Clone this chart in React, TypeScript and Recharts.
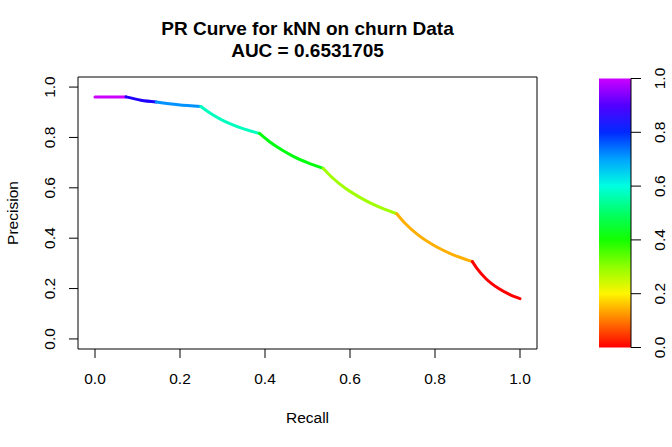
import React from 'react';
import { LineChart, Line, XAxis, YAxis, ReferenceArea, BarChart, Bar } from 'recharts';

// ---- data ----
const titleLines = ['PR Curve for kNN on churn Data', 'AUC = 0.6531705'];
const xLabel = 'Recall';
const yLabel = 'Precision';
const axisTicks = [0, 0.2, 0.4, 0.6, 0.8, 1.0];
const colorbarTicks = [0, 0.2, 0.4, 0.6, 0.8, 1.0];

// each segment of the curve (recall / precision), one colour per threshold
const segmentRecall: number[][] = [
  [0, 0.073],
  [0.073, 0.108, 0.144],
  [0.144, 0.196, 0.249],
  [0.249, 0.262, 0.277, 0.296, 0.316, 0.35, 0.387],
  [0.387, 0.41, 0.44, 0.47, 0.5, 0.537],
  [0.537, 0.56, 0.59, 0.62, 0.66, 0.71],
  [0.71, 0.73, 0.76, 0.8, 0.84, 0.888],
  [0.888, 0.9, 0.92, 0.95, 0.975, 1.0],
];
const segmentPrecision: number[][] = [
  [0.961, 0.961],
  [0.961, 0.948, 0.941],
  [0.941, 0.93, 0.923],
  [0.923, 0.907, 0.89, 0.872, 0.856, 0.834, 0.816],
  [0.816, 0.784, 0.75, 0.722, 0.7, 0.677],
  [0.677, 0.638, 0.597, 0.565, 0.53, 0.497],
  [0.497, 0.458, 0.413, 0.369, 0.336, 0.307],
  [0.307, 0.277, 0.239, 0.2, 0.177, 0.16],
];
const segmentColors = ['#CC00FF', '#1E00FF', '#0092FF', '#00FFBE', '#00FF0E', '#A0FF00', '#FFAF00', '#FF0000'];

const colorbarStops = ['#FF0000', '#FF7A00', '#FFF500', '#8FFF00', '#14FF00', '#00FF66', '#00FFE0', '#00A3FF', '#0029FF', '#5200FF', '#CC00FF'];
const colorbarData = [{ name: 'bar', v: 1 }];

const FONT = '"Liberation Sans", Arial, Helvetica, sans-serif';

const segments = segmentRecall.map((rs, i) => rs.map((r, j) => ({ r, p: segmentPrecision[i][j] })));

const RotTick = (props: any) => {
  const { x, y, payload } = props;
  return (
    <text
      x={x}
      y={y}
      transform={`rotate(-90, ${x}, ${y})`}
      textAnchor="middle"
      fontFamily={FONT}
      fontSize={15.5}
      fill="#000"
    >
      {Number(payload.value).toFixed(1)}
    </text>
  );
};

export default function App() {
  return (
    <div style={{ position: 'absolute', left: 0, top: 0, width: 672, height: 447, background: '#fff' }}>
      <div style={{ position: 'absolute', left: 0, top: 0 }}>
        <LineChart width={672} height={447} margin={{ top: 77, right: 135, left: 0, bottom: 0 }}>
          <XAxis
            type="number"
            dataKey="r"
            domain={[-0.04, 1.04]}
            allowDataOverflow
            ticks={axisTicks}
            tickFormatter={(v: number) => v.toFixed(1)}
            axisLine={false}
            tickLine={{ stroke: '#000' }}
            tickSize={9}
            tickMargin={15}
            height={98}
            tick={{ fill: '#000', fontSize: 15.5, fontFamily: FONT }}
          />
          <YAxis
            type="number"
            dataKey="p"
            domain={[-0.04, 1.04]}
            allowDataOverflow
            ticks={axisTicks}
            axisLine={false}
            tickLine={{ stroke: '#000' }}
            tickSize={9}
            tickMargin={14}
            width={78}
            tick={<RotTick />}
          />
          <ReferenceArea
            x1={-0.04}
            x2={1.04}
            y1={-0.04}
            y2={1.04}
            fill="none"
            fillOpacity={0}
            stroke="#000"
            strokeWidth={1}
            ifOverflow="visible"
          />
          {segments.map((seg, i) => (
            <Line
              key={i}
              data={seg}
              dataKey="p"
              type="monotone"
              stroke={segmentColors[i]}
              strokeWidth={3}
              strokeLinecap="round"
              dot={false}
              activeDot={false}
              isAnimationActive={false}
            />
          ))}
        </LineChart>
      </div>
      <div style={{ position: 'absolute', left: 0, top: 0 }}>
        <BarChart
          width={672}
          height={447}
          data={colorbarData}
          margin={{ top: 78.5, right: 0, bottom: 99.5, left: 599 }}
          barCategoryGap={0}
          barGap={0}
        >
          <defs>
            <linearGradient id="cbarGrad" x1="0" y1="1" x2="0" y2="0">
              {colorbarStops.map((c, i) => (
                <stop key={i} offset={`${(i / (colorbarStops.length - 1)) * 100}%`} stopColor={c} />
              ))}
            </linearGradient>
          </defs>
          <XAxis dataKey="name" hide height={0} />
          <YAxis
            orientation="right"
            type="number"
            domain={[0, 1]}
            ticks={colorbarTicks}
            width={41}
            axisLine={{ stroke: '#000' }}
            tickLine={{ stroke: '#000' }}
            tickSize={10}
            tickMargin={24}
            tick={<RotTick />}
          />
          <Bar dataKey="v" fill="url(#cbarGrad)" isAnimationActive={false} />
        </BarChart>
      </div>
      <svg
        width={672}
        height={447}
        style={{ position: 'absolute', left: 0, top: 0, pointerEvents: 'none' }}
      >
        <text x={307.5} y={34.5} textAnchor="middle" fontFamily={FONT} fontWeight="bold" fontSize={19} fill="#000">
          {titleLines[0]}
        </text>
        <text x={307.5} y={57} textAnchor="middle" fontFamily={FONT} fontWeight="bold" fontSize={19} fill="#000">
          {titleLines[1]}
        </text>
        <text x={307.5} y={423} textAnchor="middle" fontFamily={FONT} fontSize={15.5} fill="#000">
          {xLabel}
        </text>
        <text
          x={17.5}
          y={213}
          transform="rotate(-90, 17.5, 213)"
          textAnchor="middle"
          fontFamily={FONT}
          fontSize={15.5}
          fill="#000"
        >
          {yLabel}
        </text>
      </svg>
    </div>
  );
}
